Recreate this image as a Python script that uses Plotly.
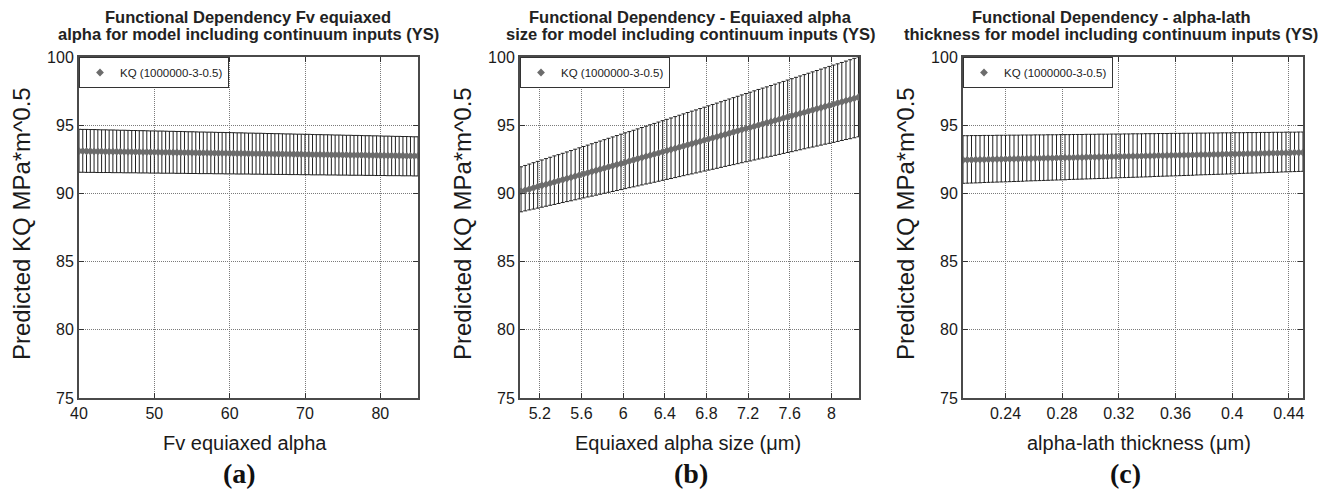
import plotly.graph_objects as go

# ---------------- data ----------------
series_name = "KQ (1000000-3-0.5)"

# Panel (a): Fv equiaxed alpha
x_a = [40.0, 40.5, 41.0, 41.5, 42.0, 42.5, 43.0, 43.5, 44.0, 44.5,
       45.0, 45.5, 46.0, 46.5, 47.0, 47.5, 48.0, 48.5, 49.0, 49.5,
       50.0, 50.5, 51.0, 51.5, 52.0, 52.5, 53.0, 53.5, 54.0, 54.5,
       55.0, 55.5, 56.0, 56.5, 57.0, 57.5, 58.0, 58.5, 59.0, 59.5,
       60.0, 60.5, 61.0, 61.5, 62.0, 62.5, 63.0, 63.5, 64.0, 64.5,
       65.0, 65.5, 66.0, 66.5, 67.0, 67.5, 68.0, 68.5, 69.0, 69.5,
       70.0, 70.5, 71.0, 71.5, 72.0, 72.5, 73.0, 73.5, 74.0, 74.5,
       75.0, 75.5, 76.0, 76.5, 77.0, 77.5, 78.0, 78.5, 79.0, 79.5,
       80.0, 80.5, 81.0, 81.5, 82.0, 82.5, 83.0, 83.5, 84.0, 84.5,
       85.0]
mean_a = [93.10, 93.10, 93.09, 93.09, 93.08, 93.08, 93.08, 93.07, 93.07, 93.06,
          93.06, 93.06, 93.05, 93.05, 93.05, 93.04, 93.04, 93.03, 93.03, 93.03,
          93.02, 93.02, 93.01, 93.01, 93.01, 93.00, 93.00, 92.99, 92.99, 92.99,
          92.98, 92.98, 92.97, 92.97, 92.97, 92.96, 92.96, 92.95, 92.95, 92.95,
          92.94, 92.94, 92.93, 92.93, 92.93, 92.92, 92.92, 92.91, 92.91, 92.91,
          92.90, 92.90, 92.89, 92.89, 92.89, 92.88, 92.88, 92.87, 92.87, 92.87,
          92.86, 92.86, 92.85, 92.85, 92.85, 92.84, 92.84, 92.83, 92.83, 92.83,
          92.82, 92.82, 92.81, 92.81, 92.81, 92.80, 92.80, 92.79, 92.79, 92.79,
          92.78, 92.78, 92.77, 92.77, 92.77, 92.76, 92.76, 92.75, 92.75, 92.75,
          92.75]
upper_a = [94.70, 94.69, 94.69, 94.68, 94.68, 94.67, 94.66, 94.66, 94.65, 94.65,
           94.64, 94.63, 94.63, 94.62, 94.61, 94.61, 94.60, 94.60, 94.59, 94.58,
           94.58, 94.57, 94.57, 94.56, 94.55, 94.55, 94.54, 94.54, 94.53, 94.52,
           94.52, 94.51, 94.50, 94.50, 94.49, 94.49, 94.48, 94.47, 94.47, 94.46,
           94.46, 94.45, 94.44, 94.44, 94.43, 94.42, 94.42, 94.41, 94.41, 94.40,
           94.39, 94.39, 94.38, 94.38, 94.37, 94.36, 94.36, 94.35, 94.34, 94.34,
           94.33, 94.33, 94.32, 94.31, 94.31, 94.30, 94.30, 94.29, 94.28, 94.28,
           94.27, 94.26, 94.26, 94.25, 94.25, 94.24, 94.23, 94.23, 94.22, 94.22,
           94.21, 94.20, 94.20, 94.19, 94.18, 94.18, 94.17, 94.17, 94.16, 94.15,
           94.15]
lower_a = [91.55, 91.55, 91.54, 91.54, 91.54, 91.53, 91.53, 91.53, 91.53, 91.52,
           91.52, 91.52, 91.51, 91.51, 91.51, 91.51, 91.50, 91.50, 91.50, 91.49,
           91.49, 91.49, 91.48, 91.48, 91.48, 91.48, 91.47, 91.47, 91.47, 91.46,
           91.46, 91.46, 91.45, 91.45, 91.45, 91.45, 91.44, 91.44, 91.44, 91.43,
           91.43, 91.43, 91.42, 91.42, 91.42, 91.42, 91.41, 91.41, 91.41, 91.40,
           91.40, 91.40, 91.39, 91.39, 91.39, 91.39, 91.38, 91.38, 91.38, 91.37,
           91.37, 91.37, 91.36, 91.36, 91.36, 91.36, 91.35, 91.35, 91.35, 91.34,
           91.34, 91.34, 91.33, 91.33, 91.33, 91.33, 91.32, 91.32, 91.32, 91.31,
           91.31, 91.31, 91.30, 91.30, 91.30, 91.30, 91.29, 91.29, 91.29, 91.28,
           91.28]

# Panel (b): Equiaxed alpha size (um)
x_b = [5.02, 5.06, 5.10, 5.14, 5.18, 5.22, 5.26, 5.30, 5.34, 5.38,
       5.42, 5.46, 5.50, 5.54, 5.58, 5.62, 5.66, 5.70, 5.74, 5.78,
       5.82, 5.86, 5.90, 5.94, 5.98, 6.02, 6.06, 6.10, 6.14, 6.18,
       6.22, 6.26, 6.30, 6.34, 6.38, 6.42, 6.46, 6.50, 6.54, 6.58,
       6.62, 6.66, 6.70, 6.74, 6.78, 6.82, 6.86, 6.90, 6.94, 6.98,
       7.02, 7.06, 7.10, 7.14, 7.18, 7.22, 7.26, 7.30, 7.34, 7.38,
       7.42, 7.46, 7.50, 7.54, 7.58, 7.62, 7.66, 7.70, 7.74, 7.78,
       7.82, 7.86, 7.90, 7.94, 7.98, 8.02, 8.06, 8.10, 8.14, 8.18,
       8.22, 8.26]
mean_b = [90.15, 90.24, 90.32, 90.41, 90.49, 90.58, 90.66, 90.75, 90.83, 90.92,
          91.00, 91.09, 91.17, 91.26, 91.34, 91.43, 91.51, 91.60, 91.68, 91.77,
          91.85, 91.94, 92.02, 92.11, 92.19, 92.28, 92.37, 92.45, 92.54, 92.62,
          92.71, 92.79, 92.88, 92.96, 93.05, 93.13, 93.22, 93.30, 93.39, 93.47,
          93.56, 93.64, 93.73, 93.81, 93.90, 93.98, 94.07, 94.15, 94.24, 94.32,
          94.41, 94.50, 94.58, 94.67, 94.75, 94.84, 94.92, 95.01, 95.09, 95.18,
          95.26, 95.35, 95.43, 95.52, 95.60, 95.69, 95.77, 95.86, 95.94, 96.03,
          96.11, 96.20, 96.28, 96.37, 96.45, 96.54, 96.63, 96.71, 96.80, 96.88,
          96.97, 97.05]
upper_b = [91.95, 92.05, 92.15, 92.25, 92.35, 92.45, 92.55, 92.65, 92.75, 92.84,
           92.94, 93.04, 93.14, 93.24, 93.34, 93.44, 93.54, 93.64, 93.74, 93.84,
           93.94, 94.04, 94.14, 94.24, 94.34, 94.44, 94.53, 94.63, 94.73, 94.83,
           94.93, 95.03, 95.13, 95.23, 95.33, 95.43, 95.53, 95.63, 95.73, 95.83,
           95.93, 96.03, 96.12, 96.22, 96.32, 96.42, 96.52, 96.62, 96.72, 96.82,
           96.92, 97.02, 97.12, 97.22, 97.32, 97.42, 97.52, 97.62, 97.72, 97.81,
           97.91, 98.01, 98.11, 98.21, 98.31, 98.41, 98.51, 98.61, 98.71, 98.81,
           98.91, 99.01, 99.11, 99.21, 99.31, 99.41, 99.50, 99.60, 99.70, 99.80,
           99.90, 100.00]
lower_b = [88.65, 88.72, 88.79, 88.85, 88.92, 88.99, 89.06, 89.13, 89.19, 89.26,
           89.33, 89.40, 89.46, 89.53, 89.60, 89.67, 89.74, 89.80, 89.87, 89.94,
           90.01, 90.08, 90.14, 90.21, 90.28, 90.35, 90.42, 90.48, 90.55, 90.62,
           90.69, 90.75, 90.82, 90.89, 90.96, 91.03, 91.09, 91.16, 91.23, 91.30,
           91.37, 91.43, 91.50, 91.57, 91.64, 91.71, 91.77, 91.84, 91.91, 91.98,
           92.05, 92.11, 92.18, 92.25, 92.32, 92.38, 92.45, 92.52, 92.59, 92.66,
           92.72, 92.79, 92.86, 92.93, 93.00, 93.06, 93.13, 93.20, 93.27, 93.34,
           93.40, 93.47, 93.54, 93.61, 93.67, 93.74, 93.81, 93.88, 93.95, 94.01,
           94.08, 94.15]

# Panel (c): alpha-lath thickness (um)
x_c = [0.210, 0.213, 0.216, 0.219, 0.222, 0.225, 0.228, 0.231, 0.234, 0.237,
       0.240, 0.243, 0.246, 0.249, 0.252, 0.255, 0.258, 0.261, 0.264, 0.267,
       0.270, 0.273, 0.276, 0.279, 0.282, 0.285, 0.288, 0.291, 0.294, 0.297,
       0.300, 0.303, 0.306, 0.309, 0.312, 0.315, 0.318, 0.321, 0.324, 0.327,
       0.330, 0.333, 0.336, 0.339, 0.342, 0.345, 0.348, 0.351, 0.354, 0.357,
       0.360, 0.363, 0.366, 0.369, 0.372, 0.375, 0.378, 0.381, 0.384, 0.387,
       0.390, 0.393, 0.396, 0.399, 0.402, 0.405, 0.408, 0.411, 0.414, 0.417,
       0.420, 0.423, 0.426, 0.429, 0.432, 0.435, 0.438, 0.441, 0.444, 0.447,
       0.450]
mean_c = [92.45, 92.46, 92.46, 92.47, 92.48, 92.48, 92.49, 92.50, 92.51, 92.51,
          92.52, 92.53, 92.53, 92.54, 92.55, 92.55, 92.56, 92.57, 92.57, 92.58,
          92.59, 92.59, 92.60, 92.61, 92.62, 92.62, 92.63, 92.64, 92.64, 92.65,
          92.66, 92.66, 92.67, 92.68, 92.68, 92.69, 92.70, 92.70, 92.71, 92.72,
          92.73, 92.73, 92.74, 92.75, 92.75, 92.76, 92.77, 92.77, 92.78, 92.79,
          92.79, 92.80, 92.81, 92.81, 92.82, 92.83, 92.84, 92.84, 92.85, 92.86,
          92.86, 92.87, 92.88, 92.88, 92.89, 92.90, 92.90, 92.91, 92.92, 92.92,
          92.93, 92.94, 92.95, 92.95, 92.96, 92.97, 92.97, 92.98, 92.99, 92.99,
          93.00]
upper_c = [94.23, 94.23, 94.24, 94.24, 94.24, 94.25, 94.25, 94.25, 94.26, 94.26,
           94.26, 94.27, 94.27, 94.27, 94.28, 94.28, 94.28, 94.29, 94.29, 94.29,
           94.30, 94.30, 94.30, 94.31, 94.31, 94.31, 94.32, 94.32, 94.32, 94.33,
           94.33, 94.33, 94.34, 94.34, 94.34, 94.35, 94.35, 94.35, 94.36, 94.36,
           94.37, 94.37, 94.37, 94.38, 94.38, 94.38, 94.39, 94.39, 94.39, 94.40,
           94.40, 94.40, 94.41, 94.41, 94.41, 94.42, 94.42, 94.42, 94.43, 94.43,
           94.43, 94.44, 94.44, 94.44, 94.45, 94.45, 94.45, 94.46, 94.46, 94.46,
           94.47, 94.47, 94.47, 94.48, 94.48, 94.48, 94.49, 94.49, 94.49, 94.50,
           94.50]
lower_c = [90.74, 90.75, 90.76, 90.77, 90.78, 90.80, 90.81, 90.82, 90.83, 90.84,
           90.85, 90.86, 90.87, 90.88, 90.89, 90.91, 90.92, 90.93, 90.94, 90.95,
           90.96, 90.97, 90.98, 90.99, 91.00, 91.02, 91.03, 91.04, 91.05, 91.06,
           91.07, 91.08, 91.09, 91.10, 91.11, 91.13, 91.14, 91.15, 91.16, 91.17,
           91.18, 91.19, 91.20, 91.21, 91.22, 91.24, 91.25, 91.26, 91.27, 91.28,
           91.29, 91.30, 91.31, 91.32, 91.33, 91.35, 91.36, 91.37, 91.38, 91.39,
           91.40, 91.41, 91.42, 91.43, 91.44, 91.46, 91.47, 91.48, 91.49, 91.50,
           91.51, 91.52, 91.53, 91.54, 91.55, 91.57, 91.58, 91.59, 91.60, 91.61,
           91.62]

# titles / labels / ticks
titles = [
    ("Functional Dependency Fv equiaxed", "alpha for model including continuum inputs (YS)"),
    ("Functional Dependency - Equiaxed alpha", "size for model including continuum inputs (YS)"),
    ("Functional Dependency - alpha-lath", "thickness for model including continuum inputs (YS)"),
]
x_titles = ["Fv equiaxed alpha", "Equiaxed alpha size (\u03bcm)", "alpha-lath thickness (\u03bcm)"]
panel_labels = ["(a)", "(b)", "(c)"]
y_title = "Predicted KQ MPa*m^0.5"

x_ranges = [[40, 85], [5.01, 8.265], [0.21, 0.45]]
x_tickvals = [[40, 50, 60, 70, 80],
              [5.2, 5.6, 6.0, 6.4, 6.8, 7.2, 7.6, 8.0],
              [0.24, 0.28, 0.32, 0.36, 0.40, 0.44]]
x_ticktext = [["40", "50", "60", "70", "80"],
              ["5.2", "5.6", "6", "6.4", "6.8", "7.2", "7.6", "8"],
              ["0.24", "0.28", "0.32", "0.36", "0.4", "0.44"]]
y_range = [75, 100]
y_tickvals = [75, 80, 85, 90, 95, 100]

# ---------------- figure ----------------
W, H = 1330, 493
px_x = [(79, 418), (520, 859), (963, 1303)]
px_top, px_bot = 57, 398
title_cx = [248, 690, 1111]     # title centres (px)
xtitle_cx = [245, 688, 1139]    # x-axis title centres (px)
label_cx = [239, 691, 1125]     # (a)/(b)/(c) centres (px)

FONT = "Liberation Sans, Arial, sans-serif"
SERIF = "Liberation Serif, Times New Roman, serif"

data = [(x_a, mean_a, upper_a, lower_a),
        (x_b, mean_b, upper_b, lower_b),
        (x_c, mean_c, upper_c, lower_c)]

fig = go.Figure()
layout = dict(
    width=W, height=H, autosize=False,
    margin=dict(l=0, r=0, t=0, b=0, pad=0),
    paper_bgcolor="white", plot_bgcolor="white",
    showlegend=True,
    annotations=[],
)

ydom = [1 - px_bot / H, 1 - px_top / H]
legend_keys = ["legend", "legend2", "legend3"]

for i, (xs, ms, us, ls) in enumerate(data):
    sfx = "" if i == 0 else str(i + 1)
    err_plus = [u - m for u, m in zip(us, ms)]
    err_minus = [m - l for m, l in zip(ms, ls)]
    fig.add_trace(go.Scatter(
        x=xs, y=ms, mode="markers", name=series_name,
        marker=dict(symbol="diamond", size=6, color="#6c6c6c", line=dict(width=0)),
        error_y=dict(type="data", symmetric=False, array=err_plus, arrayminus=err_minus,
                     color="#222222", thickness=1, width=2),
        xaxis="x" + sfx, yaxis="y" + sfx, legend=legend_keys[i],
    ))
    x0, x1 = px_x[i]
    xdom = [x0 / W, x1 / W]
    axis_common = dict(
        automargin=False,
        showline=True, linecolor="#4a4a4a", linewidth=2, mirror="ticks",
        ticks="inside", ticklen=5, tickcolor="#333", tickwidth=1,
        showgrid=True, gridcolor="#7a7a7a", griddash="1px,1px", gridwidth=1,
        zeroline=False, tickfont=dict(family=FONT, size=16, color="#1a1a1a"),
    )
    layout["xaxis" + sfx] = dict(
        domain=xdom, anchor="y" + sfx, range=x_ranges[i],
        tickmode="array", tickvals=x_tickvals[i], ticktext=x_ticktext[i],
        **axis_common)
    layout["yaxis" + sfx] = dict(
        domain=ydom, anchor="x" + sfx, range=y_range,
        tickmode="array", tickvals=y_tickvals, ticktext=[str(v) for v in y_tickvals],
        **axis_common)
    layout[legend_keys[i]] = dict(
        x=xdom[0], y=ydom[1], xanchor="left", yanchor="top",
        bgcolor="white", bordercolor="#333", borderwidth=1,
        font=dict(family=FONT, size=11.5, color="#222"),
    )
    anns = layout["annotations"]
    anns.append(dict(text="<b>%s</b>" % titles[i][0], x=title_cx[i] / W, y=1 - 17 / H,
                     xref="paper", yref="paper",
                     xanchor="center", yanchor="middle", showarrow=False,
                     font=dict(family=FONT, size=16.5, color="#222")))
    anns.append(dict(text="<b>%s</b>" % titles[i][1], x=title_cx[i] / W, y=1 - 34 / H,
                     xref="paper", yref="paper",
                     xanchor="center", yanchor="middle", showarrow=False,
                     font=dict(family=FONT, size=16.5, color="#222")))
    anns.append(dict(text=x_titles[i], x=xtitle_cx[i] / W, y=1 - 443 / H, xref="paper", yref="paper",
                     xanchor="center", yanchor="middle", showarrow=False,
                     font=dict(family=FONT, size=20, color="#1a1a1a")))
    anns.append(dict(text="<b>%s</b>" % panel_labels[i], x=label_cx[i] / W, y=1 - 473 / H,
                     xref="paper", yref="paper",
                     xanchor="center", yanchor="middle", showarrow=False,
                     font=dict(family=SERIF, size=28, color="#111")))
    anns.append(dict(text=y_title, x=(x0 - 58) / W, y=1 - 224 / H, xref="paper", yref="paper",
                     xanchor="center", yanchor="middle", showarrow=False, textangle=-90,
                     font=dict(family=FONT, size=24, color="#1a1a1a")))

fig.update_layout(**layout)
fig.write_html("out.html")
